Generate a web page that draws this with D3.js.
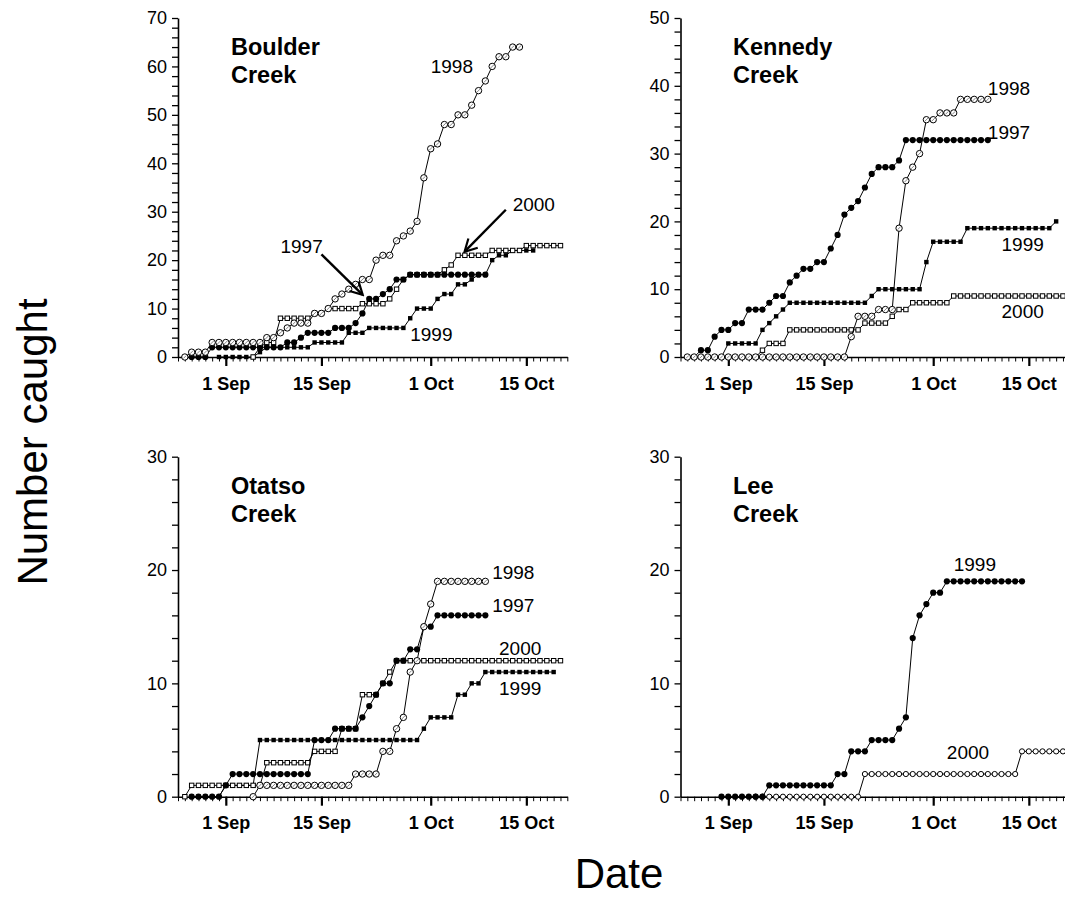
<!DOCTYPE html>
<html><head><meta charset="utf-8">
<script src="https://cdn.jsdelivr.net/npm/d3@7"></script>
<style>html,body{margin:0;padding:0;background:#fff;}svg{display:block;}</style>
</head><body>
<svg id="chart" width="1065" height="917"></svg>
<script>
// ---------------- DATA ----------------
// days counted from 25 Aug (day 0); each series: start day + daily cumulative counts
const years = ["1997", "1998", "1999", "2000"];

const boulderStart = [2, 1, 6, 11];
const boulder1997 = [0,0,0, 2,2,2,2,2,2,2,2,2,2,2, 3,3, 4, 5,5,5,5, 6,6,6, 7, 9, 12,12, 13, 14, 16,16, 17,17,17,17,17,17,17,17,17,17,17,17];
const boulder1998 = [0, 1,1,1, 3,3,3,3,3,3,3,3, 4,4, 5, 6, 7,7,7, 9,9, 10, 12, 13, 14, 15, 16,16, 20, 21,21, 24, 25, 26, 28, 37, 43, 44, 48,48, 50,50, 52, 55, 57, 60, 62,62, 64,64];
const boulder1999 = [0,0,0,0,0,0, 1, 2,2,2,2,2,2,2, 3,3,3,3,3, 5,5,5, 6,6,6,6,6,6, 8, 10,10,10, 12, 13,13, 15,15, 16, 17,17, 20, 21,21, 22,22,22,22];
const boulder2000 = [0, 2, 3,3, 8,8,8,8,8, 9,9, 10,10,10,10,10, 11,11,11,11, 12, 14, 16, 17,17,17,17,17, 18, 19, 21,21,21,21,21, 22,22,22,22,22, 23,23,23,23,23,23];

const kennedyStart = [2, 1, 6, 11];
const kennedy1997 = [0, 1,1, 3, 4,4, 5,5, 7,7,7, 8, 9,9, 11, 12, 13,13, 14,14, 16, 18, 21, 22, 23, 25, 27, 28,28,28, 29, 32,32,32,32,32,32,32,32,32,32,32,32,32];
const kennedy1998 = [0,0,0,0,0,0,0,0,0,0,0,0,0,0,0,0,0,0,0,0,0,0,0,0, 3, 6,6,6, 7,7,7, 19, 26, 28, 30, 35,35, 36,36,36, 38,38,38,38,38];
const kennedy1999 = [0, 2,2,2,2,2, 4, 5, 6, 7, 8,8,8,8,8,8,8,8,8,8,8,8, 9, 10,10,10,10,10,10,10, 14, 17,17,17,17,17, 19,19,19,19,19,19,19,19,19,19,19,19,19, 20];
const kennedy2000 = [0, 1, 2,2,2, 4,4,4,4,4,4,4,4,4,4,4, 5,5,5,5, 6, 7,7, 8,8,8,8,8,8, 9,9,9,9,9,9,9,9,9,9,9,9,9,9,9,9,9];

const otatsoStart = [2, 11, 2, 1];
const otatso1997 = [0,0,0,0,0, 1, 2,2,2,2,2,2,2,2,2,2,2,2, 5,5,5, 6,6,6,6, 7, 8, 9, 10,10, 12,12, 13,13, 15,15, 16,16,16,16,16,16,16,16];
const otatso1998 = [0, 1,1,1,1,1,1,1,1,1,1,1,1,1,1, 2,2,2,2, 4,4, 6, 7, 11, 12, 15, 17, 19,19,19,19,19,19,19,19];
const otatso1999 = [0,0,0,0,0, 1,1,1,1,1, 5,5,5,5,5,5,5,5,5,5,5,5,5,5,5,5,5,5,5,5,5,5,5,5, 6, 7,7,7,7, 9,9, 10,10, 11,11,11,11,11,11,11,11,11,11,11];
const otatso2000 = [0, 1,1,1,1,1,1,1,1,1,1,1, 3,3,3,3,3,3,3, 4,4,4,4, 6,6,6, 9,9,9, 10, 11, 12,12,12,12,12,12,12,12,12,12,12,12,12,12,12,12,12,12,12,12,12,12,12,12,12];

const leeYears = ["1999", "2000"];
const leeStart = [6, 11];
const lee1999 = [0,0,0,0,0,0,0, 1,1,1,1,1,1,1,1,1,1, 2,2, 4,4,4, 5,5,5,5, 6, 7, 14, 16, 17, 18,18, 19,19,19,19,19,19,19,19,19,19,19,19];
const lee2000 = [0,0,0,0,0,0,0,0,0,0,0,0,0,0,0,0, 2,2,2,2,2,2,2,2,2,2,2,2,2,2,2,2,2,2,2,2,2,2,2, 4,4,4,4,4,4,4];

// y-axis maxima and labelled ticks
const yMax = [70, 50, 30, 30];
const creekNames = [["Boulder", "Creek"], ["Kennedy", "Creek"], ["Otatso", "Creek"], ["Lee", "Creek"]];
const dateTickLabels = ["1 Sep", "15 Sep", "1 Oct", "15 Oct"];
const dateTickDays = [7, 21, 37, 51];
const axisDays = 57;

// year label anchors, [day, value]
const boulderLabelPos = [[15.1, 21.5], [37.3, 58.6], [34.0, 3.4], [49.6, 30.1]];
const kennedyLabelPos = [[45.8, 32.2], [45.8, 38.6], [47.3, 15.6], [47.1, 5.7]];
const otatsoLabelPos = [[46.0, 16.3], [46.0, 19.2], [47.4, 9.0], [47.2, 12.5]];
const leeLabelPos = [[40.9, 19.9], [39.7, 3.3]];
// Boulder arrows: [fromDay, fromValue, toDay, toValue]
const boulderArrows = [[21.8, 21.2, 27.9, 12.9], [48.8, 30.4, 42.7, 21.8]];

// ---------------- DRAWING ----------------
const svg = d3.select("#chart");
const FONT = "'Liberation Sans', Arial, Helvetica, sans-serif";
const DAY0 = new Date(2000, 7, 25);
const dayDate = d => d3.timeDay.offset(DAY0, d);
const PX_DAY = 6.83;

svg.append("defs").append("marker")
  .attr("id", "arrowhead").attr("viewBox", "0 0 10 10")
  .attr("refX", 8.5).attr("refY", 5).attr("markerWidth", 6.5).attr("markerHeight", 6.5)
  .attr("orient", "auto").attr("markerUnits", "strokeWidth")
  .append("path").attr("d", "M1,0.8 L8.8,5 L1,9.2").attr("fill", "none")
  .attr("stroke", "#000").attr("stroke-width", 1.4).attr("stroke-linejoin", "miter");

const panels = [
  { x0: 178, top: 18, bottom: 357, ymax: yMax[0], name: creekNames[0], titleX: 231,
    series: [
      { year: "1999", start: boulderStart[2], values: boulder1999, mk: "fs" },
      { year: "2000", start: boulderStart[3], values: boulder2000, mk: "os" },
      { year: "1997", start: boulderStart[0], values: boulder1997, mk: "fc" },
      { year: "1998", start: boulderStart[1], values: boulder1998, mk: "oc" }],
    labels: years.map((y, i) => ({ text: y, pos: boulderLabelPos[i] })),
    arrows: boulderArrows },
  { x0: 680.5, top: 18, bottom: 357, ymax: yMax[1], name: creekNames[1], titleX: 733,
    series: [
      { year: "1999", start: kennedyStart[2], values: kennedy1999, mk: "fs" },
      { year: "2000", start: kennedyStart[3], values: kennedy2000, mk: "os" },
      { year: "1997", start: kennedyStart[0], values: kennedy1997, mk: "fc" },
      { year: "1998", start: kennedyStart[1], values: kennedy1998, mk: "oc" }],
    labels: years.map((y, i) => ({ text: y, pos: kennedyLabelPos[i] })),
    arrows: [] },
  { x0: 178, top: 456.7, bottom: 796.7, ymax: yMax[2], name: creekNames[2], titleX: 231,
    series: [
      { year: "1999", start: otatsoStart[2], values: otatso1999, mk: "fs" },
      { year: "2000", start: otatsoStart[3], values: otatso2000, mk: "os" },
      { year: "1997", start: otatsoStart[0], values: otatso1997, mk: "fc" },
      { year: "1998", start: otatsoStart[1], values: otatso1998, mk: "oc" }],
    labels: years.map((y, i) => ({ text: y, pos: otatsoLabelPos[i] })),
    arrows: [] },
  { x0: 680.5, top: 456.7, bottom: 796.7, ymax: yMax[3], name: creekNames[3], titleX: 733,
    series: [
      { year: "2000", start: leeStart[1], values: lee2000, mk: "ocs" },
      { year: "1999", start: leeStart[0], values: lee1999, mk: "fc" }],
    labels: leeYears.map((y, i) => ({ text: y, pos: leeLabelPos[i] })),
    arrows: [] }
];

function drawMarker(g, mk, cx, cy) {
  if (mk === "fc") {
    g.append("circle").attr("cx", cx).attr("cy", cy).attr("r", 3.1).attr("fill", "#000");
  } else if (mk === "oc") {
    g.append("circle").attr("cx", cx).attr("cy", cy).attr("r", 3.2)
      .attr("fill", "#fff").attr("stroke", "#000").attr("stroke-width", 1);
    g.append("line").attr("x1", cx - 1.6).attr("y1", cy + 1.6).attr("x2", cx + 1.6).attr("y2", cy - 1.6)
      .attr("stroke", "#666").attr("stroke-width", 0.8);
  } else if (mk === "ocs") {
    g.append("circle").attr("cx", cx).attr("cy", cy).attr("r", 2.6)
      .attr("fill", "#fff").attr("stroke", "#000").attr("stroke-width", 1);
  } else if (mk === "fs") {
    g.append("rect").attr("x", cx - 2.2).attr("y", cy - 2.2).attr("width", 4.4).attr("height", 4.4).attr("fill", "#000");
  } else if (mk === "os") {
    g.append("rect").attr("x", cx - 2.2).attr("y", cy - 2.2).attr("width", 4.4).attr("height", 4.4)
      .attr("fill", "#fff").attr("stroke", "#000").attr("stroke-width", 1);
  }
}

panels.forEach(p => {
  const g = svg.append("g");
  const x = d3.scaleTime().domain([DAY0, dayDate(axisDays)]).range([p.x0, p.x0 + axisDays * PX_DAY]);
  const y = d3.scaleLinear().domain([0, p.ymax]).range([p.bottom, p.top]);

  // y axis
  const ya = g.append("g").attr("transform", `translate(${p.x0},0)`)
    .call(d3.axisLeft(y).tickValues(d3.range(0, p.ymax + 1, 2)).tickSize(6).tickSizeOuter(0)
      .tickFormat(d => d % 10 === 0 ? d : ""));
  ya.select(".domain").attr("stroke", "#000").attr("stroke-width", 1.6);
  ya.selectAll(".tick line").attr("stroke", "#000").attr("stroke-width", 1.3);
  ya.selectAll(".tick text").attr("font-family", FONT).attr("font-size", 18).attr("fill", "#000").attr("x", -11);

  // x axis (daily minor ticks)
  const allDays = d3.range(0, axisDays + 1).map(dayDate);
  const xa = g.append("g").attr("transform", `translate(0,${p.bottom})`)
    .call(d3.axisBottom(x).tickValues(allDays).tickSize(4.5).tickSizeOuter(0).tickFormat(""));
  xa.select(".domain").attr("stroke", "#000").attr("stroke-width", 1.6);
  xa.selectAll(".tick line").attr("stroke", "#000").attr("stroke-width", 1);
  // major ticks + labels
  const majors = dateTickDays.map(dayDate);
  const xm = g.append("g").attr("transform", `translate(0,${p.bottom})`)
    .call(d3.axisBottom(x).tickValues(majors).tickSize(9).tickSizeOuter(0)
      .tickFormat((d, i) => dateTickLabels[i]));
  xm.select(".domain").remove();
  xm.selectAll(".tick line").attr("stroke", "#000").attr("stroke-width", 2.2);
  xm.selectAll(".tick text").attr("font-family", FONT).attr("font-size", 18).attr("font-weight", "bold")
    .attr("fill", "#000").attr("y", 20);

  // title
  const t = g.append("text").attr("x", p.titleX).attr("y", p.top + 37)
    .attr("font-family", FONT).attr("font-size", 23.5).attr("font-weight", "bold").attr("fill", "#000");
  t.append("tspan").attr("x", p.titleX).text(p.name[0]);
  t.append("tspan").attr("x", p.titleX).attr("dy", 28.3).text(p.name[1]);

  // series
  const line = d3.line().x(d => x(dayDate(d[0]))).y(d => y(d[1]));
  p.series.forEach(s => {
    const pts = s.values.map((v, i) => [s.start + i, v]);
    const sg = g.append("g");
    sg.append("path").attr("d", line(pts)).attr("fill", "none").attr("stroke", "#000").attr("stroke-width", 1);
    pts.forEach(pt => drawMarker(sg, s.mk, x(dayDate(pt[0])), y(pt[1])));
  });

  // year labels
  p.labels.forEach(l => {
    g.append("text").attr("x", x(dayDate(l.pos[0]))).attr("y", y(l.pos[1]))
      .attr("font-family", FONT).attr("font-size", 19).attr("fill", "#000").text(l.text);
  });

  // arrows
  p.arrows.forEach(a => {
    g.append("line")
      .attr("x1", x(dayDate(a[0]))).attr("y1", y(a[1]))
      .attr("x2", x(dayDate(a[2]))).attr("y2", y(a[3]))
      .attr("stroke", "#000").attr("stroke-width", 2.4).attr("marker-end", "url(#arrowhead)");
  });
});

// axis titles
svg.append("text").attr("transform", "translate(47,442) rotate(-90)")
  .attr("text-anchor", "middle").attr("font-family", FONT).attr("font-size", 42).attr("fill", "#000")
  .text("Number caught");
svg.append("text").attr("x", 619).attr("y", 888)
  .attr("text-anchor", "middle").attr("font-family", FONT).attr("font-size", 42).attr("fill", "#000")
  .text("Date");
</script>
</body></html>
